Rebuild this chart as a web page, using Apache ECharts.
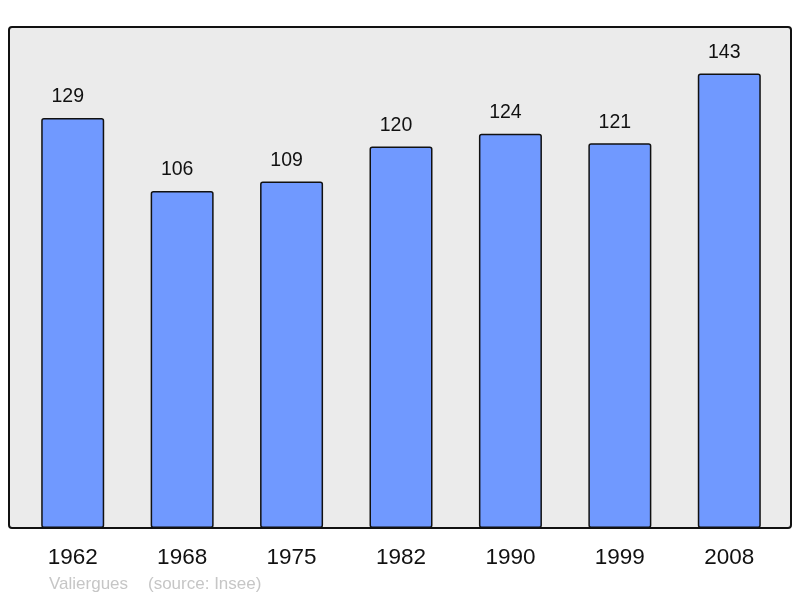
<!DOCTYPE html>
<html>
<head>
<meta charset="utf-8">
<script src="https://cdn.jsdelivr.net/npm/echarts@6/dist/echarts.min.js"></script>
<style>
  html, body { margin: 0; padding: 0; background: #fff; }
  #container { width: 800px; height: 598px; }
</style>
</head>
<body>
<div id="container"></div>
<script>
var years = ['1962', '1968', '1975', '1982', '1990', '1999', '2008'];
var population = [129, 106, 109, 120, 124, 121, 143];
var townName = 'Valiergues';
var sourceText = '(source: Insee)';

var myChart = echarts.init(document.getElementById('container'));
var option = {
    animation: false,
    textStyle: { fontFamily: 'Liberation Sans, Arial, sans-serif' },
    graphic: [
        {
            type: 'rect',
            z: -10,
            shape: { x: 9, y: 27, width: 782, height: 501, r: 3 },
            style: { fill: '#ebebeb', stroke: '#111', lineWidth: 2 }
        },
        {
            type: 'text',
            left: 49,
            top: 576,
            style: {
                text: townName,
                fill: '#c6c6c6',
                font: '17px Liberation Sans, Arial, sans-serif'
            }
        },
        {
            type: 'text',
            left: 148,
            top: 576,
            style: {
                text: sourceText,
                fill: '#c6c6c6',
                font: '17px Liberation Sans, Arial, sans-serif'
            }
        }
    ],
    grid: { left: 18, right: 16, top: 27, bottom: 70 },
    xAxis: {
        type: 'category',
        data: years,
        axisLine: { show: false },
        axisTick: { show: false },
        axisLabel: { color: '#111', fontSize: 22.5, margin: 18 }
    },
    yAxis: {
        type: 'value',
        min: 0,
        max: 157.6,
        show: false,
        splitLine: { show: false }
    },
    series: [
        {
            type: 'bar',
            data: population,
            barWidth: 63,
            itemStyle: {
                color: '#7099ff',
                borderColor: '#111',
                borderWidth: 1.5,
                borderRadius: 2
            },
            label: {
                show: true,
                position: 'top',
                distance: 11,
                offset: [-5, 0],
                color: '#111',
                fontSize: 19.5
            }
        }
    ]
};
myChart.setOption(option);
</script>
</body>
</html>
